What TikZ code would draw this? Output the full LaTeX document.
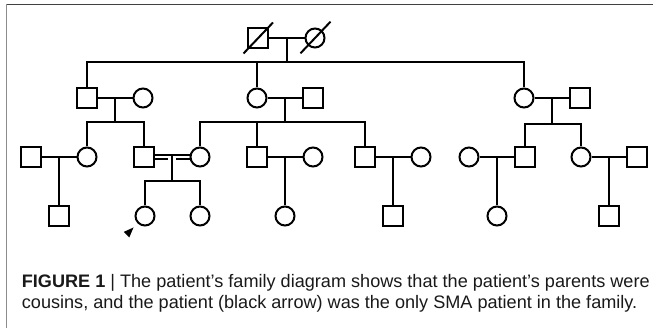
\documentclass[tikz,border=0pt]{standalone}
\usepackage{fontspec}
\setmainfont{Liberation Sans}
\usetikzlibrary{calc}
\begin{document}
\begin{tikzpicture}[x=1pt,y=-1pt,
  male/.style={draw, rectangle, line width=2pt, minimum size=20pt, inner sep=0pt},
  female/.style={draw, circle, line width=2pt, minimum size=19pt, inner sep=0pt},
  rel/.style={line width=2pt},
  dbl/.style={line width=1.7pt},
  frametop/.style={line width=1.3pt, draw=black!75},
  frameleft/.style={line width=1.6pt, draw=black!45},
  captext/.style={anchor=base west, inner sep=0pt, text=black!90, font=\fontsize{18.1}{21}\selectfont}]
\useasboundingbox (0,0) rectangle (653,328);
% frame
\coordinate (ftl) at (6,4.5);
\coordinate (ftr) at (653,4.5);
\coordinate (flt) at (6.5,4);
\coordinate (flb) at (6.5,328);
\draw[frametop] (ftl) -- (ftr);
\draw[frameleft] (flt) -- (flb);

% Generation I
\node[male]   (g1m) at (258,38) {};
\node[female] (g1f) at (315,38) {};
\path (g1m.center) ++(-14.5,15.5) coordinate (s1a) ++(29.5,-31) coordinate (s1b);
\draw[rel] (s1a) -- (s1b);
\path (g1f.center) ++(-14.5,15.3) coordinate (s2a) ++(30,-31.6) coordinate (s2b);
\draw[rel] (s2a) -- (s2b);

% Generation II
\node[male]   (a)  at (87,98) {};
\node[female] (aw) at (143,98) {};
\node[female] (b)  at (257,98) {};
\node[male]   (bh) at (313,98) {};
\node[female] (c)  at (524,98) {};
\node[male]   (ch) at (580,98) {};

% Generation III
\node[male]   (d1) at (31,157) {};
\node[female] (a1) at (87,157) {};
\node[male]   (a2) at (144,157) {};
\node[female] (b1) at (200,157) {};
\node[male]   (b2) at (257,157) {};
\node[female] (b2w) at (313,157) {};
\node[male]   (b3) at (365,157) {};
\node[female] (b3w) at (421,157) {};
\node[female] (c1w) at (469,157) {};
\node[male]   (c1) at (525,157) {};
\node[female] (c2) at (581,157) {};
\node[male]   (c2h) at (637,157) {};

% Generation IV
\node[male]   (e1) at (59,216) {};
\node[female] (p)  at (145,216) {};
\node[female] (ps) at (200,216) {};
\node[female] (f1) at (285,216) {};
\node[male]   (g1) at (393,216) {};
\node[female] (h1) at (497,216) {};
\node[male]   (i1) at (609,216) {};

% Gen I marriage and sibship
\draw[rel] (g1m) -- (g1f);
\coordinate (m0) at ($(g1m)!0.5!(g1f)$);
\coordinate (sib0) at ($(m0)+(0,24)$);
\draw[rel] (m0) -- (sib0);
\draw[rel] (a.north) -- (a |- sib0) -- (c |- sib0) -- (c.north);
\draw[rel] (b.north) -- (b |- sib0);

% Gen II marriages
\draw[rel] (a) -- (aw);
\coordinate (ma) at ($(a)!0.5!(aw)$);
\coordinate (sibA) at ($(ma)+(0,24)$);
\draw[rel] (ma) -- (sibA);
\draw[rel] (a1.north) -- (a1 |- sibA) -- (a2 |- sibA) -- (a2.north);

\draw[rel] (b) -- (bh);
\coordinate (mb) at ($(b)!0.5!(bh)$);
\coordinate (sibB) at ($(mb)+(0,24)$);
\draw[rel] (mb) -- (sibB);
\draw[rel] (b1.north) -- (b1 |- sibB) -- (b3 |- sibB) -- (b3.north);
\draw[rel] (b2.north) -- (b2 |- sibB);

\draw[rel] (c) -- (ch);
\coordinate (mc) at ($(c)!0.5!(ch)$);
\coordinate (sibC) at ($(mc)+(0,26)$);
\draw[rel] (mc) -- (sibC);
\draw[rel] (c1.north) -- (c1 |- sibC) -- (c2 |- sibC) -- (c2.north);

% Gen III marriages
\draw[rel] (d1) -- (a1);
\coordinate (md) at ($(d1)!0.5!(a1)$);
\draw[rel] (md) -- (md |- e1.north);

% consanguineous marriage
\coordinate (mcu) at ($(a2.east)!0.5!(b1.west)+(0,-1.8)$);
\coordinate (mcl) at ($(a2.east)!0.5!(b1.west)+(0,1.8)$);
\draw[dbl] (a2.east |- mcu) -- (b1.west |- mcu);
\draw[dbl] (a2.east |- mcl) -- ($(mcl)+(-4,0)$);
\draw[dbl] ($(mcl)+(4,0)$) -- (b1.west |- mcl);
\coordinate (sibP) at ($(mcu)+(0,25.8)$);
\draw[rel] (mcu) -- (sibP);
\draw[rel] (p.north) -- (p |- sibP) -- (ps |- sibP) -- (ps.north);

\draw[rel] (b2) -- (b2w);
\coordinate (mf) at ($(b2)!0.5!(b2w)$);
\draw[rel] (mf) -- (mf |- f1.north);

\draw[rel] (b3) -- (b3w);
\coordinate (mg) at ($(b3)!0.5!(b3w)$);
\draw[rel] (mg) -- (mg |- g1.north);

\draw[rel] (c1w) -- (c1);
\coordinate (mh) at ($(c1w)!0.5!(c1)$);
\draw[rel] (mh) -- (mh |- h1.north);

\draw[rel] (c2) -- (c2h);
\coordinate (mi) at ($(c2)!0.5!(c2h)$);
\draw[rel] (mi) -- (mi |- i1.north);

% proband arrow
\coordinate (tip) at ($(p.center)+(-11.5,11.5)$);
\fill (tip) -- ++(-4.2,10) -- ++(-5.6,-5.6) -- cycle;

% caption
\node[captext] (cap1) at (21.7,288) {\textbf{FIGURE 1} | The patient’s family diagram shows that the patient’s parents were};
\node[captext] (cap2) at (21.7,308.5) {cousins, and the patient (black arrow) was the only SMA patient in the family.};
\end{tikzpicture}
\end{document}
